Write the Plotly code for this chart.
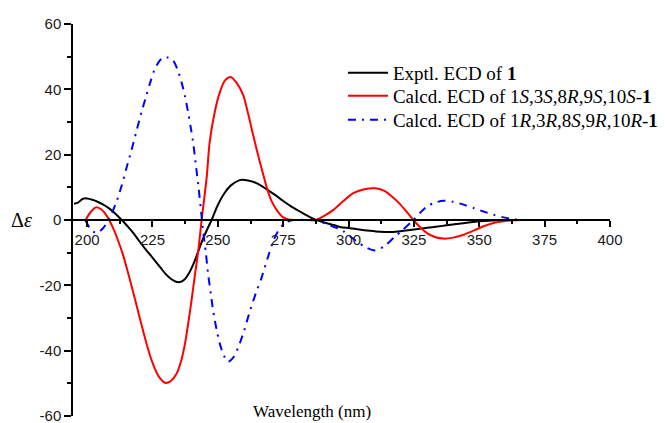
import plotly.graph_objects as go

# ---------------- data ----------------
exp_nm = [195, 196.5, 198.4, 200, 202, 204, 206, 208, 210, 212, 214, 216, 218, 220, 222, 225, 228,
          230, 232, 234, 235.5, 237, 239, 241, 243, 245, 247.6, 250, 252.5, 255, 258.4, 261, 264.8,
          268.7, 272, 275, 278, 281.4, 284, 287.2, 290, 294.2, 297, 300.6, 304, 308.2, 312, 315.5,
          319, 322, 325, 328, 332, 336, 341, 346, 350, 355, 360, 365, 370, 380, 390, 400]
exp_de = [5.0, 5.3, 6.5, 6.6, 6.2, 5.6, 4.8, 3.8, 2.5, 1.0, -0.6, -2.4, -4.3, -6.5, -8.6, -11.5, -14.5,
          -16.5, -18.0, -18.9, -19.0, -18.4, -16.2, -12.8, -8.5, -4.5, 0.0, 4.6, 8.2, 10.6, 12.2, 12.2, 11.3,
          9.4, 7.6, 5.8, 4.2, 2.6, 1.4, 0.1, -0.6, -1.5, -2.2, -2.5, -2.9, -3.3, -3.6, -3.7,
          -3.5, -3.2, -2.9, -2.6, -2.2, -1.8, -1.2, -0.8, -0.4, -0.15, 0.0, 0.0, 0.0, 0.0, 0.0, 0.0]

s_nm = [199.4, 201.5, 203.5, 205.5, 207.4, 209.9, 211.8, 213.7, 215.6, 217.5, 219.5, 221.4, 223.3,
        225.2, 227.5, 230.1, 232, 234.2, 236, 237.4, 238.7, 239.9, 241.2, 242.5, 243.8, 245.7, 246.9,
        248.8, 250.8, 252.8, 254.9, 257.2, 259.7, 261.6, 263.5, 265.5, 267.4, 269, 270.6, 273, 275,
        277, 278.9, 283, 287.2, 290.5, 294.2, 298, 301.8, 306, 310.2, 313.5, 316.6, 319.5, 322,
        324.8, 327.5, 330, 333, 336.3, 340, 344, 348, 351.6, 355.5, 359.3, 363, 366, 370, 380, 390, 400]
s_de = [0.0, 2.6, 3.9, 3.2, 1.4, -2.4, -6.2, -10.6, -16.0, -21.7, -28.0, -33.9, -39.5,
        -44.1, -48.0, -49.9, -49.3, -47.1, -43.0, -38.0, -31.5, -24.8, -17.0, -9.5, 0.0, 12.8, 24.0,
        33.0, 39.2, 42.8, 43.8, 42.0, 38.2, 32.5, 26.0, 19.5, 13.8, 9.2, 5.7, 2.5, 0.8,
        0.15, 0.0, 0.0, 0.0, 1.2, 3.1, 5.8, 8.2, 9.4, 9.7, 9.0, 7.2, 5.0, 2.7,
        0.0, -2.3, -4.0, -5.2, -5.7, -5.4, -4.5, -3.2, -1.9, -0.9, -0.4, -0.1, 0.0, 0.0, 0.0, 0.0, 0.0]

r_nm = [199.3, 201, 203.5, 206, 208.6, 211.2, 213.2, 215, 217, 218.8, 220.8, 222.7, 224.3, 225.9,
        227.5, 229, 231, 232.9, 234.5, 236.1, 237.4, 238.6, 239.6, 240.5, 241.5, 242.5, 243.8, 244.4,
        245.4, 246.3, 247.3, 248.2, 249.5, 250.8, 252.3, 253.9, 255.8, 257.8, 260, 262.3, 264.5,
        266.7, 269, 271.2, 273, 275, 277, 279, 286, 288, 290.3, 294, 298, 301, 303.1, 306.5, 310.1,
        313.5, 317.2, 321, 324.8, 327.5, 330, 333, 336.3, 340, 344, 348, 351.6, 355.5, 359.3, 362.5,
        365.7, 370, 380, 390, 400]
r_de = [0.0, -2.4, -4.0, -2.6, 0.6, 5.5, 10.5, 15.8, 21.5, 27.0, 33.0, 38.2, 42.5, 46.3,
        48.5, 49.8, 49.7, 48.8, 46.2, 42.2, 38.0, 33.1, 28.5, 24.0, 17.5, 10.8, 1.1, -3.5,
        -10.0, -16.7, -22.5, -27.8, -33.5, -38.0, -41.5, -43.4, -42.2, -39.0, -34.0, -27.8, -22.5,
        -17.7, -11.8, -6.5, -3.5, -1.4, -0.4, 0.0, 0.0, -0.2, -0.9, -2.0, -3.4, -5.3, -6.5, -8.3, -9.3,
        -8.1, -5.5, -2.8, 0.0, 2.3, 4.2, 5.3, 5.9, 5.6, 4.7, 3.6, 2.6, 1.6, 0.8, 0.3,
        0.0, 0.0, 0.0, 0.0, 0.0]

names = [
    "Exptl. ECD of <b>1</b>",
    "Calcd. ECD of 1<i>S</i>,3<i>S</i>,8<i>R</i>,9<i>S</i>,10<i>S</i>-<b>1</b>",
    "Calcd. ECD of 1<i>R</i>,3<i>R</i>,8<i>S</i>,9<i>R</i>,10<i>R</i>-<b>1</b>",
]
x_ticks = [200, 225, 250, 275, 300, 325, 350, 375, 400]
y_ticks = [-60, -40, -20, 0, 20, 40, 60]

# ---------------- figure ----------------
fig = go.Figure()
fig.add_trace(go.Scatter(x=exp_nm, y=exp_de, mode="lines", name=names[0], legend="legend",
                         line=dict(color="black", width=2, shape="spline", smoothing=0.8)))
fig.add_trace(go.Scatter(x=s_nm, y=s_de, mode="lines", name=names[1], legend="legend2",
                         line=dict(color="#ff0000", width=2, shape="spline", smoothing=0.8)))
fig.add_trace(go.Scatter(x=r_nm, y=r_de, mode="lines", name=names[2], legend="legend3",
                         line=dict(color="#0000ff", width=2, shape="spline", smoothing=0.8,
                                   dash="8px,6px,2px,6px")))

tickfont = dict(family="Liberation Sans, Arial, sans-serif", size=15, color="#1a1a1a")
serif = "Liberation Serif, Times New Roman, serif"


def leg(y):
    return dict(x=0.5027, y=y, xanchor="left", yanchor="middle",
                font=dict(family=serif, size=19, color="black"),
                bgcolor="rgba(0,0,0,0)", itemwidth=40, borderwidth=0)


fig.update_layout(
    width=665, height=423,
    margin=dict(l=73, r=55, t=24, b=7, autoexpand=False),
    paper_bgcolor="white", plot_bgcolor="white",
    showlegend=True,
    legend=leg(0.875), legend2=leg(0.8163), legend3=leg(0.7551),
    xaxis=dict(range=[194.6, 400], anchor="free", position=0.5, automargin=False,
               showline=True, linecolor="black", linewidth=1.5,
               ticks="outside", ticklen=6, tickwidth=1.5, tickcolor="black",
               tickvals=x_ticks, ticktext=[str(v) for v in x_ticks],
               minor=dict(dtick=12.5, tick0=200, ticks="outside", ticklen=3,
                          tickwidth=1.5, tickcolor="black"),
               tickfont=tickfont, showgrid=False, zeroline=False),
    yaxis=dict(range=[-60, 60], automargin=False,
               showline=True, linecolor="black", linewidth=1.5,
               ticks="outside", ticklen=7, tickwidth=1.5, tickcolor="black",
               tickvals=y_ticks, ticktext=[str(v) for v in y_ticks],
               ticklabeloverflow="allow",
               minor=dict(dtick=10, tick0=0, ticks="outside", ticklen=4,
                          tickwidth=1.5, tickcolor="black"),
               tickfont=tickfont, showgrid=False, zeroline=False),
    annotations=[
        dict(text="Δ<i>ε</i>", xref="paper", yref="paper", x=-0.095, y=0.5,
             xanchor="center", yanchor="middle", showarrow=False,
             font=dict(family=serif, size=20, color="black")),
        dict(text="Wavelength (nm)", xref="paper", yref="paper", x=0.445, y=-0.0179,
             xanchor="center", yanchor="bottom", showarrow=False,
             font=dict(family=serif, size=17, color="black")),
    ],
)

fig.write_html("out.html")
